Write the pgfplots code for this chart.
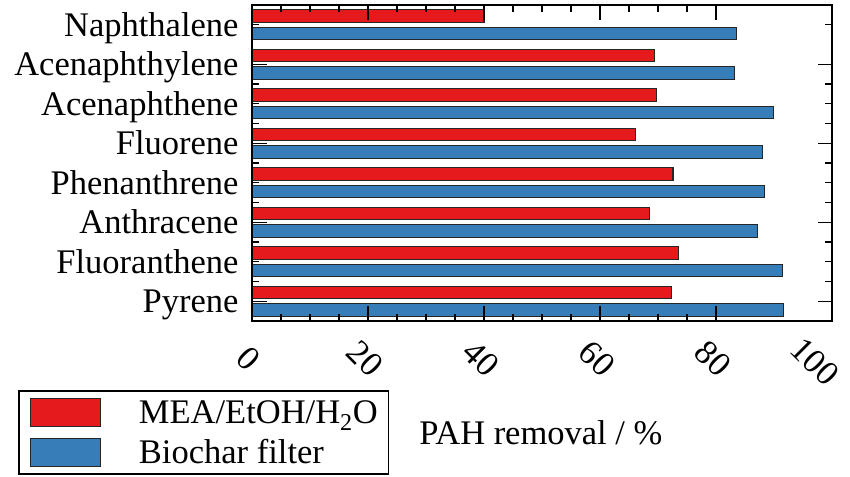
\documentclass[border=0pt]{standalone}
\usepackage{fontspec}
\setmainfont{Liberation Serif}
\usepackage{pgfplots}
\pgfplotsset{compat=1.18}
\definecolor{barred}{HTML}{E41A1C}
\definecolor{barblue}{HTML}{377EB8}
\newcommand\fsz{\fontsize{34.5pt}{41pt}\selectfont}
\begin{document}
\begin{tikzpicture}
\begin{axis}[
  at={(252pt,155pt)}, anchor=south west,
  scale only axis, width=580pt, height=316pt,
  xbar, xmin=0, xmax=100, ymin=0.5, ymax=8.5,
  bar width=0.32,
  axis on top,
  tick align=inside,
  axis line style={line width=2pt},
  every tick/.style={black, line width=1.4pt},
  major tick length=14.5pt, minor tick length=7pt,
  xtick={0,20,40,60,80}, minor x tick num=3,
  extra x ticks={100},
  extra x tick style={tick align=inside, xticklabel style={xshift=-7.8pt, yshift=-12pt}},
  ytick={1,3,5,7},
  yticklabels={Pyrene,Anthracene,Fluorene,Acenaphthylene},
  extra y ticks={2,4,6,8},
  extra y tick labels={Fluoranthene,Phenanthrene,Acenaphthene,Naphthalene},
  extra y tick style={tick align=inside, major tick length=7pt},
  minor y tick num=3,
  tick label style={font=\fsz},
  /pgf/number format/assume math mode=true,
  xticklabel style={xshift=-3pt, yshift=-37.5pt, rotate=-45, anchor=center},
  yticklabel style={anchor=base east, xshift=-10pt, yshift=-11.5pt},
  xlabel={PAH removal / \%},
  xlabel style={at={(axis description cs:0.498,-0.354)}, anchor=center, font=\fsz},
  legend style={at={(axis description cs:-0.4034,-0.2184)}, anchor=north west,
    draw=black, line width=1.5pt, font=\fsz, inner xsep=11pt, inner ysep=7pt,
    nodes={inner sep=0pt}, row sep=11pt,
    /tikz/every odd column/.append style={column sep=38pt}},
  legend cell align=left,
  legend image code/.code={\draw[#1, line width=1.2pt] (0pt,-14pt) rectangle (70pt,14pt);},
]
\addplot[fill=barred, draw=black!85, line width=1.2pt, bar shift=0.222]
  coordinates {(72.3,1) (73.5,2) (68.6,3) (72.6,4) (66.1,5) (69.8,6) (69.4,7) (40.0,8)};
\addlegendentry{MEA/EtOH/H\textsubscript{2}O}
\addplot[fill=barblue, draw=black!85, line width=1.2pt, bar shift=-0.222]
  coordinates {(91.7,1) (91.4,2) (87.1,3) (88.3,4) (88.0,5) (89.9,6) (83.2,7) (83.5,8)};
\addlegendentry{Biochar filter}
\end{axis}
\pgfresetboundingbox
\useasboundingbox (0,0) rectangle (850pt,476pt);
\end{tikzpicture}
\end{document}
